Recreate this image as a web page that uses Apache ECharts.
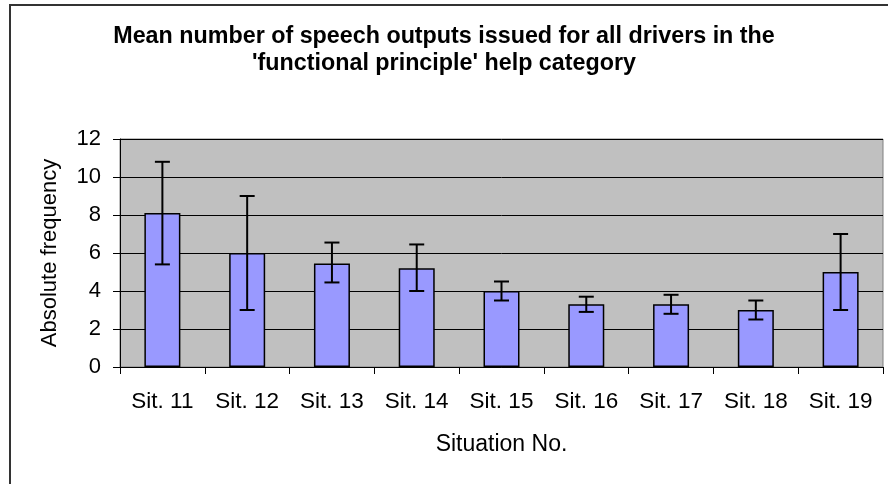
<!DOCTYPE html>
<html>
<head>
<meta charset="utf-8">
<script src="https://cdn.jsdelivr.net/npm/echarts@6/dist/echarts.min.js"></script>
<style>
	html, body { margin: 0; padding: 0; background: #fff; }
	#chart { width: 888px; height: 484px; }
</style>
</head>
<body>
<div id="chart"></div>
<script>
(function() {
	'use strict';

	var categories = [ "Sit. 11", "Sit. 12", "Sit. 13", "Sit. 14", "Sit. 15", "Sit. 16", "Sit. 17", "Sit. 18", "Sit. 19" ];
	var means = [ 8.1, 6.0, 5.45, 5.2, 4.0, 3.3, 3.3, 3.0, 5.0 ];
	var errLow = [ 5.4, 3.0, 4.45, 4.0, 3.5, 2.9, 2.8, 2.5, 3.0 ];
	var errHigh = [ 10.8, 9.0, 6.55, 6.45, 4.5, 3.7, 3.8, 3.5, 7.0 ];
	var yTicks = [ 0, 2, 4, 6, 8, 10, 12 ];

	var font = "'Liberation Sans', Arial, sans-serif";

	var errData = [];
	for (var i = 0; i < categories.length; i++) {
		errData.push([ i, errLow[i], errHigh[i] ]);
	}

	var renderError = function(params, api) {
		var lo = api.coord([ api.value(0), api.value(1) ]);
		var hi = api.coord([ api.value(0), api.value(2) ]);
		var half = 7.5;
		var style = { stroke: "#000", lineWidth: 2 };
		return {
			type: "group",
			children: [
				{ type: "line", shape: { x1: hi[0], y1: hi[1], x2: lo[0], y2: lo[1] }, style: style },
				{ type: "line", shape: { x1: hi[0] - half, y1: hi[1], x2: hi[0] + half, y2: hi[1] }, style: style },
				{ type: "line", shape: { x1: lo[0] - half, y1: lo[1], x2: lo[0] + half, y2: lo[1] }, style: style }
			]
		};
	};

	var chart = echarts.init(document.getElementById("chart"), null, { renderer: "canvas" });

	chart.setOption({
		animation: false,
		backgroundColor: "#fff",
		textStyle: { fontFamily: font, color: "#000" },
		graphic: [ {
			type: "rect",
			shape: { x: 10, y: 5, width: 900, height: 500 },
			style: { fill: "none", stroke: "#333", lineWidth: 2 },
			z: -10
		} ],
		title: {
			text: "Mean number of speech outputs issued for all drivers in the\n'functional principle' help category",
			left: "center",
			top: 18,
			textStyle: { fontFamily: font, fontWeight: "bold", fontSize: 23.3, lineHeight: 27, color: "#000" }
		},
		grid: {
			left: 120, right: 5, top: 139, bottom: 117,
			show: true,
			backgroundColor: "#c0c0c0",
			borderColor: "#808080",
			borderWidth: 1
		},
		xAxis: {
			type: "category",
			data: categories,
			name: "Situation No.",
			nameLocation: "middle",
			nameGap: 66,
			nameTextStyle: { fontFamily: font, fontSize: 23, color: "#000" },
			axisLine: { lineStyle: { color: "#000", width: 1 } },
			axisTick: { show: true, length: 7, lineStyle: { color: "#000" } },
			axisLabel: { fontFamily: font, fontSize: 22.5, color: "#000", margin: 23, interval: 0 },
			splitLine: { show: false }
		},
		yAxis: {
			type: "value",
			min: yTicks[0],
			max: yTicks[yTicks.length - 1],
			interval: 2,
			name: "Absolute frequency",
			nameLocation: "middle",
			nameGap: 59,
			nameTextStyle: { fontFamily: font, fontSize: 22, color: "#000" },
			axisLine: { show: true, lineStyle: { color: "#000", width: 1 } },
			axisTick: { show: true, length: 7, lineStyle: { color: "#000" } },
			axisLabel: { fontFamily: font, fontSize: 22, color: "#000", margin: 19 },
			splitLine: { show: true, lineStyle: { color: "#000", width: 1 } }
		},
		series: [ {
			type: "bar",
			data: means,
			barWidth: 36,
			itemStyle: { color: "#9999ff", borderColor: "#000", borderWidth: 1.5 }
		}, {
			type: "custom",
			data: errData,
			renderItem: renderError,
			z: 5
		} ]
	});
}());
</script>
</body>
</html>
